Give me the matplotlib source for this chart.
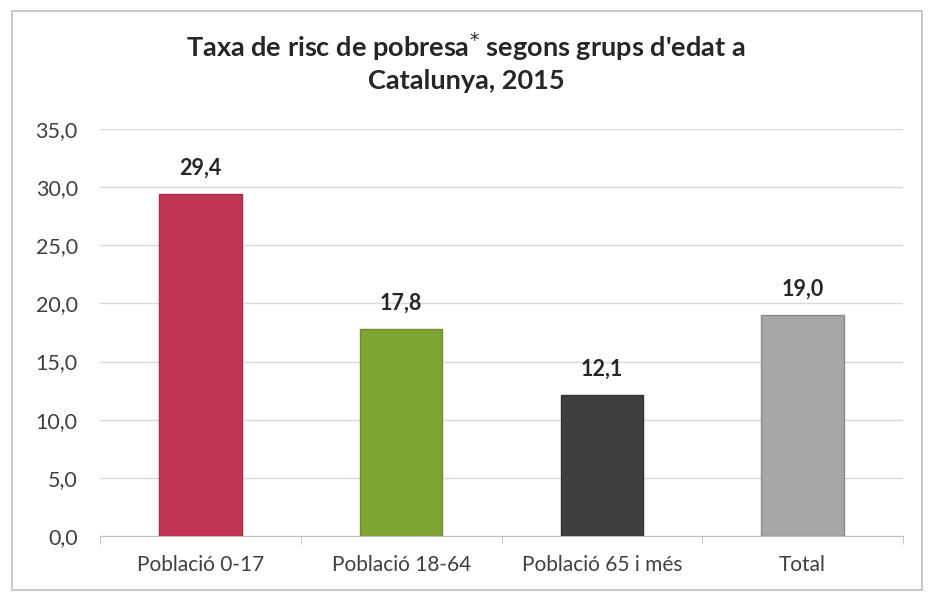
import matplotlib
matplotlib.use("Agg")
import matplotlib.pyplot as plt
from matplotlib.patches import Rectangle

categories = ["Població 0-17", "Població 18-64", "Població 65 i més", "Total"]
values = [29.4, 17.8, 12.1, 19.0]
colors = ["#C23553", "#7EA534", "#3F3F3F", "#A6A6A6"]
edges = ["#A82A45", "#6C8F2C", "#333333", "#8C8C8C"]
yticks = [0, 5, 10, 15, 20, 25, 30, 35]

plt.rcParams['font.family'] = ['Lato', 'DejaVu Sans']

fig = plt.figure(figsize=(9.32, 6.01), dpi=100)
fig.patch.set_facecolor("white")
fig.patches.append(Rectangle((12/932, 11/601), 910/932, 579/601, transform=fig.transFigure,
                             fill=False, edgecolor="#BFBFBF", linewidth=1.2))

ax = fig.add_axes([100/932, 1 - 536/601, 803/932, (536 - 129)/601])
x = range(len(categories))
bars = ax.bar(x, values, width=0.41, color=colors, edgecolor=edges, linewidth=1, zorder=3)
for xi, v in zip(x, values):
    ax.text(xi, v + 1.35, f"{v:.1f}".replace(".", ","), ha="center", va="bottom",
            fontsize=15.5, fontweight="bold", color="#262626")

ax.set_ylim(0, 35)
ax.set_xlim(-0.5, len(categories) - 0.5)
ax.set_yticks(yticks)
ax.set_yticklabels([f"{t:.1f}".replace(".", ",") for t in yticks], fontsize=15.5, color="#404040")
ax.set_xticks(list(x))
ax.set_xticklabels(categories, fontsize=15, color="#404040")
ax.tick_params(axis="x", length=0, pad=14)
ax.tick_params(axis="y", length=0, pad=16)
ax.set_xticks([0.5, 1.5, 2.5, -0.5, 3.5], minor=True)
ax.tick_params(axis="x", which="minor", length=6, color="#BFBFBF", direction="out")
ax.grid(axis="y", color="#D9D9D9", linewidth=1, zorder=0)
for s in ["top", "right", "left"]:
    ax.spines[s].set_visible(False)
ax.spines["bottom"].set_color("#BFBFBF")

fig.text(466/932, 1 - 47/601, "Taxa de risc de pobresa$^{*}$ segons grups d'edat a",
         ha="center", va="center", fontsize=19.5, fontweight="bold", color="#262626")
fig.text(466/932, 1 - 81/601, "Catalunya, 2015",
         ha="center", va="center", fontsize=19.5, fontweight="bold", color="#262626")

fig.savefig("out.png", dpi=100, facecolor="white")
